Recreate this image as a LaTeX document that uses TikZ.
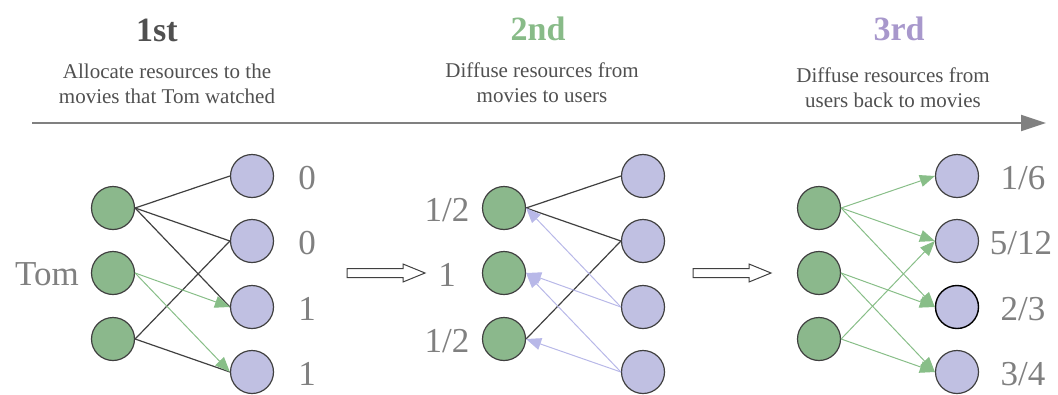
\documentclass[tikz,border=0pt]{standalone}
\usepackage{fontspec}
\setmainfont{Liberation Serif}
\usetikzlibrary{arrows.meta}
\definecolor{gfill}{RGB}{139,184,140}
\definecolor{pfill}{RGB}{192,192,226}
\definecolor{edgec}{RGB}{64,64,64}
\definecolor{garr}{RGB}{136,190,136}
\definecolor{parr}{RGB}{184,184,232}
\definecolor{lbl}{RGB}{128,128,128}
\definecolor{txt}{RGB}{80,80,80}
\definecolor{ttwo}{RGB}{136,187,136}
\definecolor{tthree}{RGB}{168,152,204}
\begin{document}
\begin{tikzpicture}[x=1pt,y=-1pt,
  gnode/.style={circle,draw=edgec,fill=gfill,line width=1.2pt,minimum size=43pt,inner sep=0pt},
  pnode/.style={circle,draw=edgec,fill=pfill,line width=1.2pt,minimum size=43pt,inner sep=0pt},
  dline/.style={draw=edgec,line width=1.2pt},
  garrow/.style={draw=garr,line width=1pt,-{Triangle[length=15pt,width=12pt]}},
  parrow/.style={draw=parr,line width=1pt,-{Triangle[length=15pt,width=12pt]}},
  numlbl/.style={text=lbl,font=\fontsize{35}{40}\selectfont,anchor=base,inner sep=0pt},
  ttl/.style={font=\fontsize{34}{38}\selectfont\bfseries,anchor=base,inner sep=0pt},
  desc/.style={text=txt,font=\fontsize{21}{25}\selectfont,align=center,anchor=base,inner sep=0pt},
  harrow/.style={draw=edgec,fill=white,line width=1pt,line join=miter}
]
\useasboundingbox (0,0) rectangle (1058,394);
% titles
\node[ttl,text=txt] (t1) at (157,41) {1st};
\node[ttl,text=ttwo] (t2) at (538,40) {2nd};
\node[ttl,text=tthree] (t3) at (899,40) {3rd};
\node[desc] (d1) at (167,103) {Allocate resources to the\\movies that Tom watched};
\node[desc] (d2) at (542,102) {Diffuse resources from\\movies to users};
\node[desc] (d3) at (893,107) {Diffuse resources from\\users back to movies};
% timeline
\coordinate (tlA) at (32,123);
\coordinate (tlB) at (1046,123);
\draw[line width=2pt,draw=lbl,-{Triangle[length=25pt,width=16pt]}] (tlA) -- (tlB);
% panel 1
\node[gnode] (a1) at (113,208) {};
\node[gnode] (a2) at (113,273) {};
\node[gnode] (a3) at (113,339) {};
\node[pnode] (b1) at (252,176) {};
\node[pnode] (b2) at (252,241) {};
\node[pnode] (b3) at (252,307) {};
\node[pnode] (b4) at (252,372) {};
\draw[dline] (a1.east) -- (b1.west);
\draw[dline] (a1.east) -- (b2.west);
\draw[dline] (a1.east) -- (b3.west);
\draw[dline] (a3.east) -- (b2.west);
\draw[dline] (a3.east) -- (b4.west);
\draw[garrow] (a2.east) -- (b3.west);
\draw[garrow] (a2.east) -- (b4.west);
\node[numlbl] (lb1) at (307,189) {0};
\node[numlbl] (lb2) at (307,254) {0};
\node[numlbl] (lb3) at (307,320) {1};
\node[numlbl] (lb4) at (307,385) {1};
\node[numlbl] (tom) at (47,285) {Tom};
% hollow arrows
\coordinate (h1) at (347,273);
\draw[harrow] (h1) ++(0,-4.5) -- ++(56,0) -- ++(0,-4.5) -- ++(22,9) -- ++(-22,9) -- ++(0,-4.5) -- ++(-56,0) -- cycle;
\coordinate (h2) at (693,273);
\draw[harrow] (h2) ++(0,-4.5) -- ++(56,0) -- ++(0,-4.5) -- ++(22,9) -- ++(-22,9) -- ++(0,-4.5) -- ++(-56,0) -- cycle;
% panel 2
\node[gnode] (c1) at (504,208) {};
\node[gnode] (c2) at (504,273) {};
\node[gnode] (c3) at (504,339) {};
\node[pnode] (e1) at (643,176) {};
\node[pnode] (e2) at (643,241) {};
\node[pnode] (e3) at (643,307) {};
\node[pnode] (e4) at (643,372) {};
\draw[dline] (c1.east) -- (e1.west);
\draw[dline] (c1.east) -- (e2.west);
\draw[dline] (c3.east) -- (e2.west);
\draw[parrow] (e3.west) -- (c1.east);
\draw[parrow] (e3.west) -- (c2.east);
\draw[parrow] (e4.west) -- (c2.east);
\draw[parrow] (e4.west) -- (c3.east);
\node[numlbl] (lc1) at (447,221) {1/2};
\node[numlbl] (lc2) at (447,286) {1};
\node[numlbl] (lc3) at (447,352) {1/2};
% panel 3
\node[gnode] (f1) at (819,208) {};
\node[gnode] (f2) at (819,273) {};
\node[gnode] (f3) at (819,339) {};
\node[pnode] (g1) at (957,176) {};
\node[pnode] (g2) at (957,241) {};
\node[pnode,draw=black,line width=1.4pt] (g3) at (957,307) {};
\node[pnode] (g4) at (957,372) {};
\draw[garrow] (f1.east) -- (g1.west);
\draw[garrow] (f1.east) -- (g2.west);
\draw[garrow] (f1.east) -- (g3.west);
\draw[garrow] (f2.east) -- (g3.west);
\draw[garrow] (f2.east) -- (g4.west);
\draw[garrow] (f3.east) -- (g2.west);
\draw[garrow] (f3.east) -- (g4.west);
\node[numlbl] (lg1) at (1023,189) {1/6};
\node[numlbl] (lg2) at (1021,254) {5/12};
\node[numlbl] (lg3) at (1023,320) {2/3};
\node[numlbl] (lg4) at (1023,385) {3/4};
\end{tikzpicture}
\end{document}
